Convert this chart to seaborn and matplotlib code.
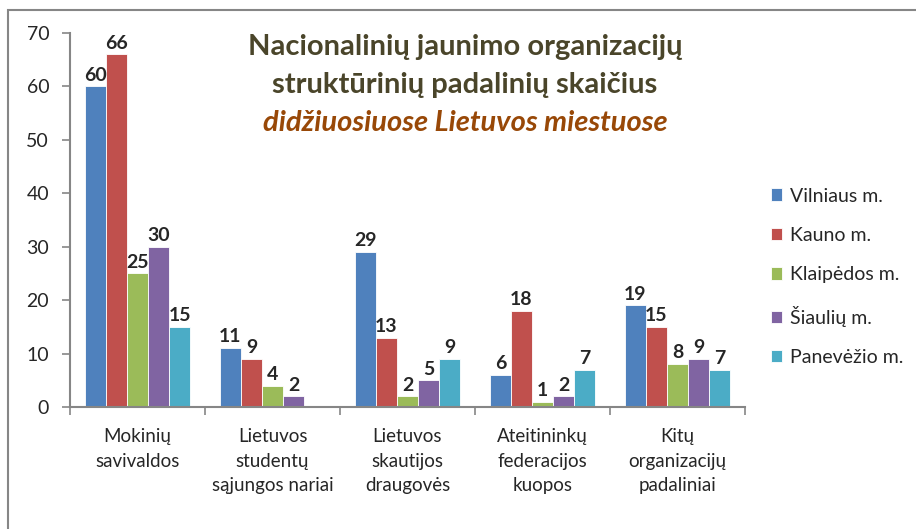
import pandas as pd
import numpy as np
import matplotlib
matplotlib.use('Agg')
import matplotlib.pyplot as plt
import seaborn as sns
from matplotlib.patches import Rectangle

categories = ['Mokinių\nsavivaldos', 'Lietuvos\nstudentų\nsąjungos nariai',
              'Lietuvos\nskautijos\ndraugovės', 'Ateitininkų\nfederacijos\nkuopos',
              'Kitų\norganizacijų\npadaliniai']
cities = ['Vilniaus m.', 'Kauno m.', 'Klaipėdos m.', 'Šiaulių m.', 'Panevėžio m.']
vilnius = [60, 11, 29, 6, 19]
kaunas = [66, 9, 13, 18, 15]
klaipeda = [25, 4, 2, 1, 8]
siauliai = [30, 2, 5, 2, 9]
panevezys = [15, np.nan, 9, 7, 7]
colors = ['#4F81BD', '#C0504D', '#9BBB59', '#8064A2', '#4BACC6']

rows = []
for city, vals in zip(cities, [vilnius, kaunas, klaipeda, siauliai, panevezys]):
    for cat, v in zip(categories, vals):
        rows.append({'kategorija': cat, 'miestas': city, 'reiksme': v})
df = pd.DataFrame(rows)

sns.set_style('white')
plt.rcParams['font.family'] = ['Lato', 'DejaVu Sans']

fig = plt.figure(figsize=(9.16, 5.29), dpi=100)
ax = fig.add_axes([70/916, 1 - 407/529, 675/916, 374/529])

sns.barplot(data=df, x='kategorija', y='reiksme', hue='miestas', palette=colors,
            saturation=1, width=0.78, ax=ax, edgecolor='white', linewidth=0.6)

for cont in ax.containers:
    labels = ['' if np.isnan(v) else f'{int(v)}' for v in cont.datavalues]
    ax.bar_label(cont, labels=labels, padding=2, fontsize=14, fontweight='bold')

ax.set_ylim(0, 70)
ax.set_yticks(range(0, 71, 10))
ax.set_xlim(-0.5, 4.5)
ax.set_xlabel('')
ax.set_ylabel('')
ax.tick_params(axis='y', labelsize=14, length=6, width=1.2, color='#868686',
               direction='out', left=True, pad=9)
ax.set_xticks(np.arange(-0.5, 5, 1), minor=True)
ax.tick_params(axis='x', which='major', length=0, labelsize=13.5, pad=15)
for lab in ax.get_xticklabels():
    lab.set_linespacing(1.55)
ax.tick_params(axis='x', which='minor', length=6, width=1.2, color='#868686',
               direction='out', bottom=True)
for s in ['top', 'right']:
    ax.spines[s].set_visible(False)
for s in ['left', 'bottom']:
    ax.spines[s].set_color('#868686')
    ax.spines[s].set_linewidth(1.5)

handles, labels = ax.get_legend_handles_labels()
ax.legend(handles, labels, loc='upper left', bbox_to_anchor=(753/916, 1 - 170/529),
          bbox_transform=fig.transFigure, frameon=False, fontsize=14,
          handlelength=0.6, handleheight=0.6, handletextpad=0.4, labelspacing=1.15)

fig.text(465/916, 1 - 47/529, 'Nacionalinių jaunimo organizacijų',
         ha='center', va='center', fontsize=21, fontweight='bold', color='#4A452A')
fig.text(465/916, 1 - 85/529, 'struktūrinių padalinių skaičius',
         ha='center', va='center', fontsize=21, fontweight='bold', color='#4A452A')
fig.text(465/916, 1 - 123/529, 'didžiuosiuose Lietuvos miestuose',
         ha='center', va='center', fontsize=21, fontweight='bold', style='italic',
         color='#984807')

fig.patches.append(Rectangle((8/916, -0.1), 1.0, 1 - 10/529 + 0.1,
                             transform=fig.transFigure, fill=False,
                             edgecolor='#868686', linewidth=1.5))

fig.savefig('out.png', dpi=100)
